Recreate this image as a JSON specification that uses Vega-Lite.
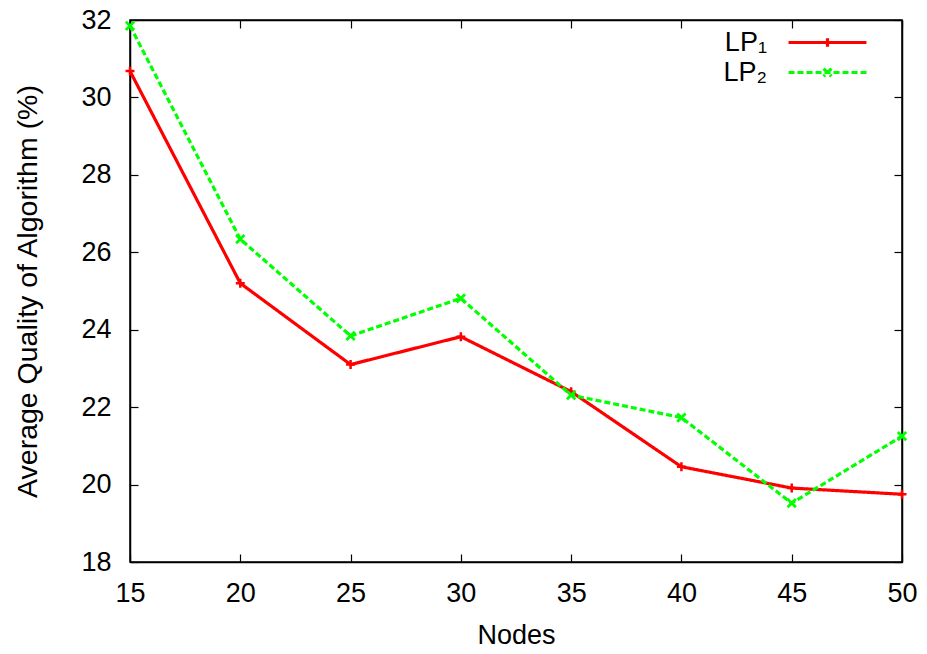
{
  "$schema": "https://vega.github.io/schema/vega-lite/v6.json",
  "width": 772,
  "height": 542,
  "autosize": "none",
  "padding": {"left": 130, "top": 20, "right": 25, "bottom": 92},
  "background": "white",
  "config": {
    "font": "Liberation Sans",
    "view": {"stroke": "black", "strokeWidth": 1.5}
  },
  "data": {"values": [
    {"nodes": 15, "series": "LP₁", "value": 30.68},
    {"nodes": 20, "series": "LP₁", "value": 25.20},
    {"nodes": 25, "series": "LP₁", "value": 23.10},
    {"nodes": 30, "series": "LP₁", "value": 23.82},
    {"nodes": 35, "series": "LP₁", "value": 22.40},
    {"nodes": 40, "series": "LP₁", "value": 20.46},
    {"nodes": 45, "series": "LP₁", "value": 19.91},
    {"nodes": 50, "series": "LP₁", "value": 19.75},
    {"nodes": 15, "series": "LP₂", "value": 31.85},
    {"nodes": 20, "series": "LP₂", "value": 26.34},
    {"nodes": 25, "series": "LP₂", "value": 23.84},
    {"nodes": 30, "series": "LP₂", "value": 24.81},
    {"nodes": 35, "series": "LP₂", "value": 22.31},
    {"nodes": 40, "series": "LP₂", "value": 21.73},
    {"nodes": 45, "series": "LP₂", "value": 19.52},
    {"nodes": 50, "series": "LP₂", "value": 21.25}
  ]},
  "layer": [
    {
      "mark": {"type": "line", "strokeWidth": 3.2, "clip": false},
      "encoding": {
        "x": {"field": "nodes", "type": "quantitative", "scale": {"domain": [15, 50], "nice": false, "zero": false},
              "axis": {"orient": "bottom", "values": [15, 20, 25, 30, 35, 40, 45, 50], "tickSize": -8, "tickColor": "black", "tickWidth": 1.2, "domainColor": "black", "domainWidth": 1.5, "grid": false, "labelFlush": false, "labelFont": "Liberation Sans", "labelFontSize": 27, "labelColor": "black", "labelPadding": 26, "title": "Nodes", "titleFont": "Liberation Sans", "titleFontSize": 27, "titleFontWeight": "normal", "titleColor": "black", "titlePadding": 16}},
        "y": {"field": "value", "type": "quantitative", "scale": {"domain": [18, 32], "nice": false, "zero": false},
              "axis": {"orient": "left", "values": [18, 20, 22, 24, 26, 28, 30, 32], "tickSize": -8, "tickColor": "black", "tickWidth": 1.2, "domainColor": "black", "domainWidth": 1.5, "grid": false, "labelFlush": false, "labelFont": "Liberation Sans", "labelFontSize": 27, "labelColor": "black", "labelPadding": 27, "title": "Average Quality of Algorithm (%)", "titleFont": "Liberation Sans", "titleFontSize": 28.5, "titleFontWeight": "normal", "titleColor": "black", "titlePadding": 38}},
        "color": {"field": "series", "type": "nominal", "scale": {"domain": ["LP₁", "LP₂"], "range": ["#ff0000", "#00ff00"]},
                  "legend": {"orient": "none", "legendX": 684, "legendY": 9, "title": null, "symbolSize": 243, "symbolStrokeWidth": 3.2, "symbolFillColor": "transparent", "labelFontSize": 27, "labelFont": "Liberation Sans", "labelColor": "black", "labelAlign": "right", "labelOffset": -74, "rowPadding": 2, "symbolOpacity": 1}},
        "strokeDash": {"field": "series", "type": "nominal", "scale": {"domain": ["LP₁", "LP₂"], "range": [[1, 0], [6, 3]]}}
      }
    },
    {
      "mark": {"type": "point", "filled": false, "opacity": 0, "clip": false},
      "encoding": {
        "x": {"field": "nodes", "type": "quantitative", "axis": {"orient": "top", "values": [15, 20, 25, 30, 35, 40, 45, 50], "tickSize": -8, "tickColor": "black", "tickWidth": 1.2, "domainColor": "black", "domainWidth": 1.5, "grid": false, "labels": false, "title": null}},
        "y": {"field": "value", "type": "quantitative", "axis": {"orient": "right", "values": [18, 20, 22, 24, 26, 28, 30, 32], "tickSize": -8, "tickColor": "black", "tickWidth": 1.2, "domainColor": "black", "domainWidth": 1.5, "grid": false, "labels": false, "title": null}},
        "color": {"field": "series", "type": "nominal"},
        "shape": {"field": "series", "type": "nominal", "scale": {"domain": ["LP₁", "LP₂"], "range": ["M-5,0H5M0,-0.55V0.55", "M-5,0H5M-0.5,-0.5L0.5,0.5M0.5,-0.5L-0.5,0.5"]}}
      }
    },
    {
      "transform": [{"filter": "datum.series === 'LP₁'"}],
      "mark": {"type": "point", "filled": false, "strokeWidth": 2.5, "opacity": 1, "size": 80, "clip": false, "shape": "M-1,0H1M0,-1V1", "color": "#ff0000"},
      "encoding": {
        "x": {"field": "nodes", "type": "quantitative", "axis": null},
        "y": {"field": "value", "type": "quantitative", "axis": null}
      }
    },
    {
      "transform": [{"filter": "datum.series === 'LP₂'"}],
      "mark": {"type": "point", "filled": false, "strokeWidth": 2.8, "opacity": 1, "size": 70, "clip": false, "shape": "M-1,-1L1,1M1,-1L-1,1", "color": "#00ff00"},
      "encoding": {
        "x": {"field": "nodes", "type": "quantitative", "axis": null},
        "y": {"field": "value", "type": "quantitative", "axis": null}
      }
    }
  ],
  "resolve": {"axis": {"x": "independent", "y": "independent"}}
}
